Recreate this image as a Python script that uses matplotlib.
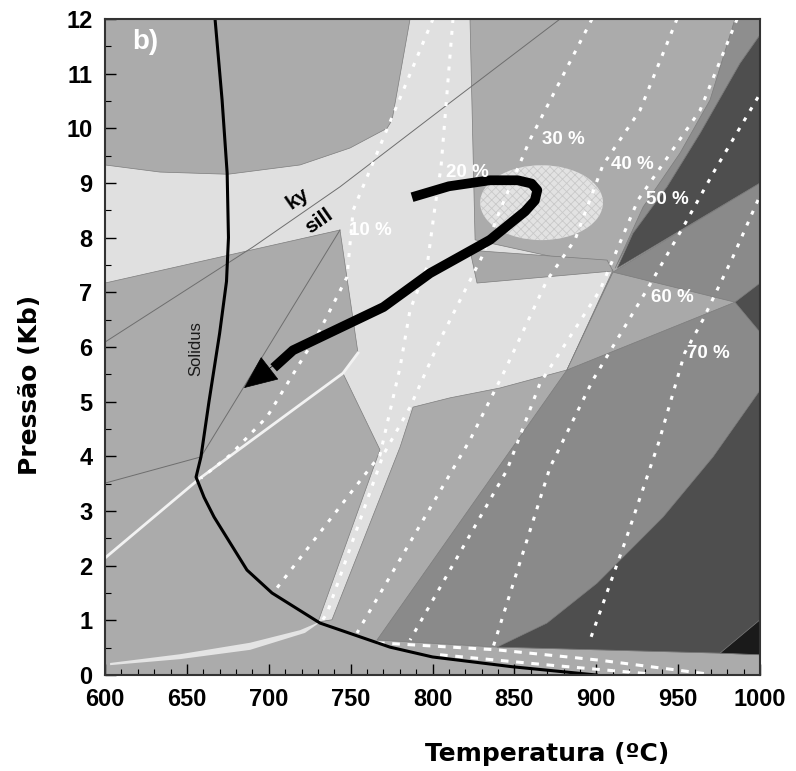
import numpy as np
import matplotlib.pyplot as plt
from matplotlib.patches import Ellipse

plt.rcParams['hatch.linewidth'] = 0.6

# --- field boundaries (T in oC, P in kb) ---
light_T = [600, 633.6, 675.1, 719.1, 749.6, 772.2, 775.3, 786.3, 822.9, 826.0, 910.2, 882.1,
           841.2, 810.7, 788.1, 780.2, 738.6, 730.1, 767.9, 745.3, 754.5, 743.5, 600]
light_P = [9.33, 9.20, 9.16, 9.33, 9.64, 10.0, 10.15, 12.0, 12.0, 7.96, 7.41, 5.58,
           5.25, 5.07, 4.90, 4.17, 1.01, 0.97, 4.12, 5.52, 5.89, 8.14, 7.17]

band_T = [822.9, 906.6, 910.2, 827.2]
band_P = [7.77, 7.59, 7.39, 7.17]

midband_T = [984.7, 969.5, 951.2, 928.6, 911.5, 922.4, 943.2, 963.4, 987.8, 1000, 1000]
midband_P = [12.0, 10.52, 9.55, 8.56, 7.44, 8.08, 8.93, 9.91, 11.19, 11.71, 12.0]

darktop_T = [1000, 987.8, 963.4, 943.2, 922.4, 912.7, 1000]
darktop_P = [11.71, 11.19, 9.91, 8.93, 8.08, 7.44, 9.0]

md_T = [910.2, 1000, 1000, 975.6, 839.4, 766.1, 882.1]
md_P = [7.37, 9.0, 0.37, 0.40, 0.51, 0.64, 5.58]

wedge_T = [910.2, 984.7, 882.1]
wedge_P = [7.37, 6.82, 5.58]

dtri_T = [984.7, 1000, 1000]
dtri_P = [6.82, 7.17, 6.27]

darklow_T = [1000, 971.3, 940.8, 900.5, 869.9, 839.4, 975.6, 1000]
darklow_P = [5.21, 3.99, 2.89, 1.68, 0.95, 0.51, 0.40, 0.37]

vdark_T = [975.6, 1000, 1000]
vdark_P = [0.40, 1.01, 0.37]

crescent_T = [603.1, 645.8, 688.6, 719.1, 732.5, 722.1, 688.6, 645.8, 603.1]
crescent_P = [0.22, 0.38, 0.59, 0.82, 0.99, 0.77, 0.46, 0.29, 0.18]

# reaction lines
kysill_T = [600, 690.4, 743.5, 804.6, 877.9]
kysill_P = [6.09, 7.83, 8.93, 10.33, 12.0]
rxn1_T = [658.6, 743.5]
rxn1_P = [3.99, 8.14]
rxn2_T = [600, 658.6]
rxn2_P = [3.51, 3.99]
white_T = [600, 658.0, 745.3, 754.5]
white_P = [2.14, 3.60, 5.52, 5.89]

sol_T = [667.2, 671.5, 674.6, 675.4, 674.2, 670.0, 663.5, 658.6, 655.6, 660.5, 666.6,
         686.7, 702.0, 731.3, 774.0, 800.0, 849.0, 900.0]
sol_P = [12.0, 10.52, 9.18, 8.0, 7.2, 6.25, 5.0, 3.99, 3.62, 3.25, 2.89,
         1.92, 1.50, 0.95, 0.51, 0.33, 0.15, 0.0]

# melt isopleths
iso_labels = ['10 %', '20 %', '30 %', '40 %', '50 %', '60 %', '70 %']
iso10_T = [800.3, 774.0, 751.5, 747.8, 731.3, 698.9, 676.3, 658.6]
iso10_P = [12.0, 10.11, 8.50, 7.28, 6.31, 4.72, 4.02, 3.60]
iso20_T = [812.5, 805.2, 801.5, 796.6, 786.3, 780.2, 767.9, 702.6]
iso20_P = [12.0, 9.29, 8.56, 7.46, 6.68, 5.63, 4.02, 1.50]
iso30_T = [897.4, 859.5, 841.2, 830.2, 804.6, 786.3, 769.8, 735.6, 732.5]
iso30_P = [12.0, 9.79, 8.50, 7.65, 6.13, 4.90, 4.02, 1.13, 0.99]
iso40_T = [949.3, 926.7, 904.1, 887.0, 869.9, 844.3, 822.9, 753.9]
iso40_P = [12.0, 10.33, 9.33, 7.96, 7.22, 5.58, 4.30, 0.77]
iso50_T = [986.0, 963.4, 925.5, 902.3, 865.7, 845.5, 786.3]
iso50_P = [12.0, 10.33, 8.69, 7.04, 5.34, 3.75, 0.64]
iso60_T = [998.8, 972.5, 953.0, 929.8, 898.0, 871.8, 837.0]
iso60_P = [10.57, 9.24, 8.19, 6.99, 5.40, 3.80, 0.51]
iso70_T = [998.8, 983.5, 965.0, 954.0, 938.0, 918.0, 896.2]
iso70_P = [8.69, 7.65, 6.49, 5.89, 4.24, 2.47, 0.64]
label_T = [761.8, 821.1, 879.7, 921.8, 943.2, 946.3, 968.3]
label_P = [8.14, 9.20, 9.79, 9.33, 8.69, 6.91, 5.89]

bottom1_T = [766.1, 839.4, 902.3, 967.6]
bottom1_P = [0.59, 0.46, 0.27, 0.02]
bottom2_T = [804.6, 871.8, 932.8]
bottom2_P = [0.37, 0.18, 0.02]

# P-T path
path_T = [787.5, 810.0, 835.0, 852.0, 860.5, 864.0, 862.5, 856.5, 835.1, 798.5, 770.0, 714.8, 703.0]
path_P = [8.74, 8.94, 9.05, 9.05, 8.99, 8.87, 8.68, 8.48, 7.96, 7.35, 6.73, 5.94, 5.62]
tip_T, tip_P = 684.9, 5.25

ell_T, ell_P, ell_w, ell_h = 866.6, 8.64, 75.0, 1.37

fig = plt.figure(figsize=(7.96, 7.71), dpi=100)
ax = fig.add_axes([105 / 796, 96 / 771, 655 / 796, 656 / 771])
ax.set_xlim(600, 1000)
ax.set_ylim(0, 12)
ax.set_facecolor('#ababab')

edge = dict(ec='#7c7c7c', lw=0.5)
ax.fill(light_T, light_P, fc='#e0e0e0', **edge)
ax.fill(band_T, band_P, fc='#a8a8a8', **edge)
ax.fill(md_T, md_P, fc='#8a8a8a', **edge)
ax.fill(wedge_T, wedge_P, fc='#a9a9a9', **edge)
ax.fill(midband_T, midband_P, fc='#8e8e8e', **edge)
ax.fill(darktop_T, darktop_P, fc='#4e4e4e', **edge)
ax.fill(dtri_T, dtri_P, fc='#4e4e4e', **edge)
ax.fill(darklow_T, darklow_P, fc='#4e4e4e', **edge)
ax.fill(vdark_T, vdark_P, fc='#1a1a1a', **edge)
ax.fill(crescent_T, crescent_P, fc='#e4e4e4', ec='none')

ax.plot(kysill_T, kysill_P, color='#6e6e6e', lw=0.7)
ax.plot(rxn1_T, rxn1_P, color='#6e6e6e', lw=0.7)
ax.plot(rxn2_T, rxn2_P, color='#6e6e6e', lw=0.7)
ax.plot(white_T, white_P, color='#f2f2f2', lw=2)

ell = Ellipse((ell_T, ell_P), ell_w, ell_h, fc='#e2e2e2', ec='#c9c9c9', lw=0, hatch='xxxx')
ax.add_patch(ell)

dots = (0, (1.3, 2.6))
for xs, ys in [(iso10_T, iso10_P), (iso20_T, iso20_P), (iso30_T, iso30_P), (iso40_T, iso40_P),
               (iso50_T, iso50_P), (iso60_T, iso60_P), (iso70_T, iso70_P)]:
    ax.plot(xs, ys, color='white', lw=2.2, ls=dots)
for xs, ys in [(bottom1_T, bottom1_P), (bottom2_T, bottom2_P)]:
    ax.plot(xs, ys, color='white', lw=2.2, ls=(0, (2.5, 2.5)))

for t, p, s in zip(label_T, label_P, iso_labels):
    ax.text(t, p, s, color='white', fontsize=13.5, fontweight='bold',
            family=['Liberation Sans', 'DejaVu Sans'], ha='center', va='center')

ax.plot(sol_T, sol_P, color='black', lw=2.2)
ax.text(655.6, 5.98, 'Solidus', rotation=90, fontsize=12, color='#1a1a1a',
        family=['Liberation Sans', 'DejaVu Sans'], ha='center', va='center')

ax.text(717.3, 8.72, 'ky', rotation=35, fontsize=15, fontweight='bold',
        family=['Liberation Sans', 'DejaVu Sans'], ha='center', va='center')
ax.text(730.7, 8.30, 'sill', rotation=35, fontsize=15, fontweight='bold',
        family=['Liberation Sans', 'DejaVu Sans'], ha='center', va='center')

ax.plot(path_T, path_P, color='black', lw=7, solid_capstyle='butt', solid_joinstyle='round')
ax.annotate('', xy=(tip_T, tip_P), xytext=(path_T[-2], path_P[-2]),
            arrowprops=dict(arrowstyle='-|>,head_length=1.5,head_width=0.65', mutation_scale=15,
                            fc='black', ec='black', lw=0.5, shrinkA=0, shrinkB=0))

ax.text(0.061, 0.965, 'b)', transform=ax.transAxes, color='white', fontsize=20,
        fontweight='bold', family=['Liberation Sans', 'DejaVu Sans'], ha='center', va='center')

ax.set_xticks(np.arange(600, 1001, 50))
ax.set_xticks(np.arange(600, 1001, 10), minor=True)
ax.set_yticks(np.arange(0, 13, 1))
ax.set_yticks(np.arange(0, 12.01, 0.5), minor=True)
ax.tick_params(which='major', direction='in', length=8, width=1, pad=9, labelsize=17)
ax.tick_params(which='minor', direction='in', length=4, width=0.8)
for lbl in ax.get_xticklabels() + ax.get_yticklabels():
    lbl.set_family(['Liberation Sans Narrow', 'Liberation Sans', 'DejaVu Sans'])
    lbl.set_fontweight('bold')
for s in ax.spines.values():
    s.set_color('#333333')
    s.set_linewidth(1.5)

fig.text(547 / 796, 1 - 754 / 771, 'Temperatura (ºC)', fontsize=18, fontweight='heavy',
         family='DejaVu Sans', ha='center', va='center')
fig.text(30 / 796, 1 - 385 / 771, 'Pressão (Kb)', fontsize=18, fontweight='heavy',
         family='DejaVu Sans', ha='center', va='center', rotation=90)

fig.savefig('out.png', dpi=100)
